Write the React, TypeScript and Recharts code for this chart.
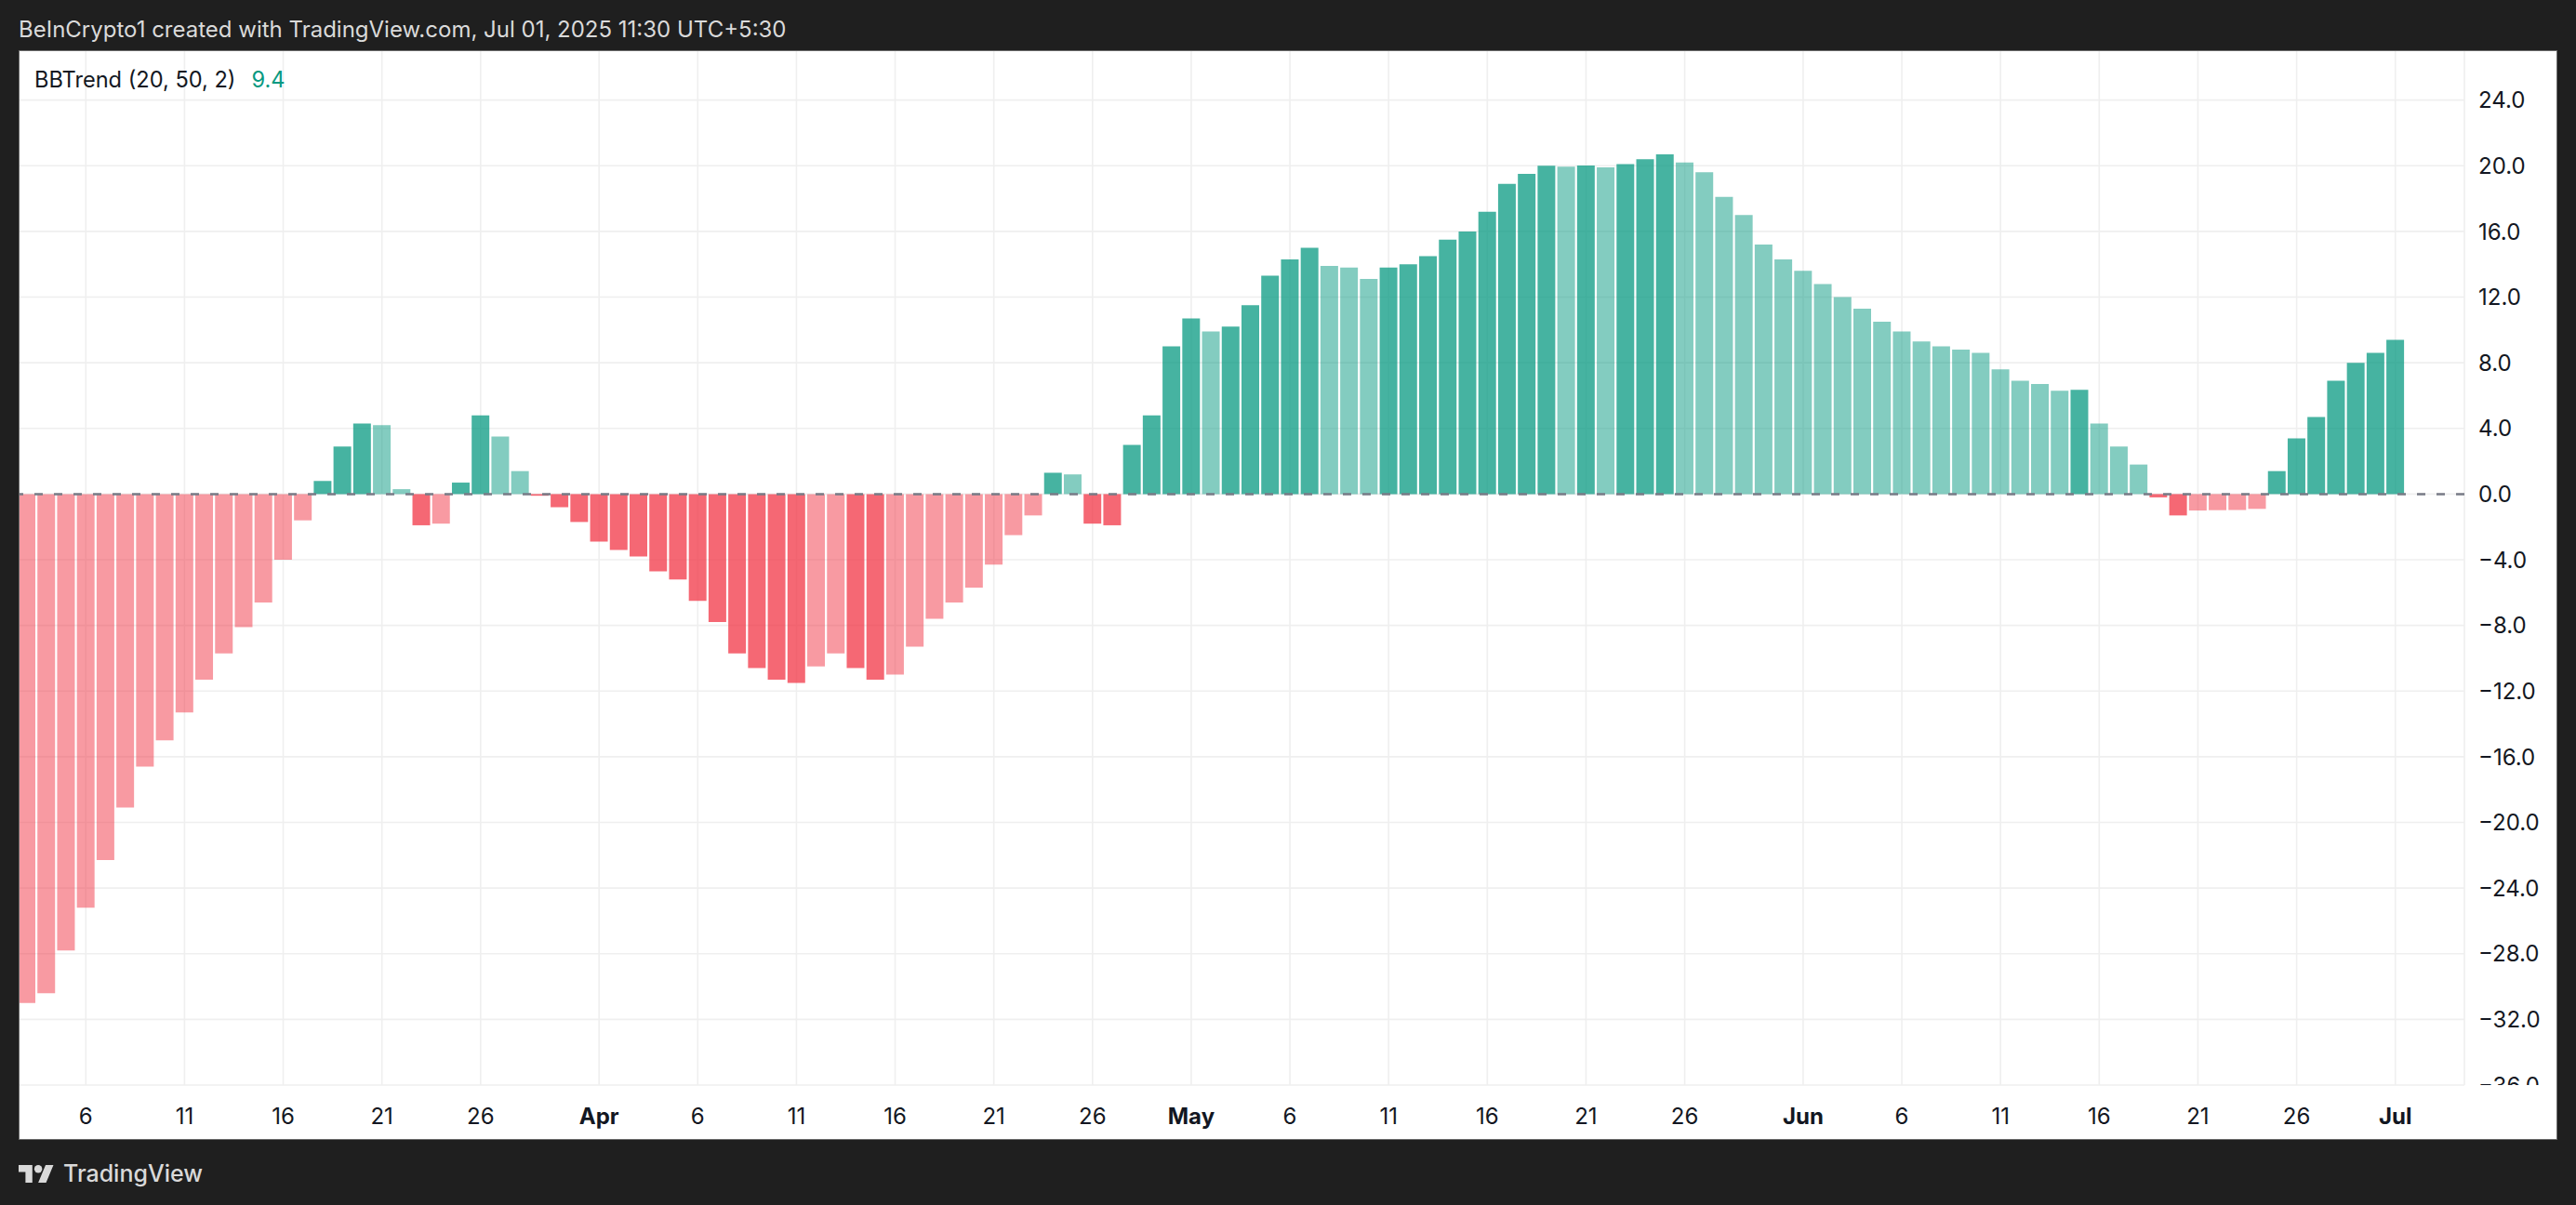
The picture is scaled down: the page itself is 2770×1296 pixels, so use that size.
import React from "react";
import { BarChart, Bar, XAxis, YAxis, CartesianGrid, ReferenceLine, Cell } from "recharts";

// BBTrend (20, 50, 2) daily values, 3 Mar 2025 -> 1 Jul 2025
const startDate = "2025-03-03";
const bbtrend = [
  -31.0, -30.4, -27.8, -25.2, -22.3, -19.1, -16.6, -15.0, -13.3, -11.3,
  -9.7, -8.1, -6.6, -4.0, -1.6, 0.8, 2.9, 4.3, 4.2, 0.3,
  -1.9, -1.8, 0.7, 4.8, 3.5, 1.4, -0.1, -0.8, -1.7, -2.9,
  -3.4, -3.8, -4.7, -5.2, -6.5, -7.8, -9.7, -10.6, -11.3, -11.5,
  -10.5, -9.7, -10.6, -11.3, -11.0, -9.3, -7.6, -6.6, -5.7, -4.3,
  -2.5, -1.3, 1.3, 1.2, -1.8, -1.9, 3.0, 4.8, 9.0, 10.7,
  9.9, 10.2, 11.5, 13.3, 14.3, 15.0, 13.9, 13.8, 13.1, 13.8,
  14.0, 14.5, 15.5, 16.0, 17.2, 18.9, 19.5, 20.0, 19.95, 20.02,
  19.9, 20.1, 20.4, 20.7, 20.2, 19.6, 18.1, 17.0, 15.2, 14.3,
  13.6, 12.8, 12.0, 11.3, 10.5, 9.9, 9.3, 9.0, 8.8, 8.6,
  7.6, 6.9, 6.7, 6.3, 6.35, 4.3, 2.9, 1.8, -0.2, -1.3,
  -1.0, -0.98, -0.97, -0.9, 1.4, 3.4, 4.7, 6.9, 8.0, 8.6,
  9.4,
];
const xTickDates = [
  "2025-03-06", "2025-03-11", "2025-03-16", "2025-03-21", "2025-03-26",
  "2025-04-01", "2025-04-06", "2025-04-11", "2025-04-16", "2025-04-21", "2025-04-26",
  "2025-05-01", "2025-05-06", "2025-05-11", "2025-05-16", "2025-05-21", "2025-05-26",
  "2025-06-01", "2025-06-06", "2025-06-11", "2025-06-16", "2025-06-21", "2025-06-26",
  "2025-07-01",
];
const yTicks = [-36, -32, -28, -24, -20, -16, -12, -8, -4, 0, 4, 8, 12, 16, 20, 24];
const monthNames = ["Jan", "Feb", "Mar", "Apr", "May", "Jun", "Jul", "Aug", "Sep", "Oct", "Nov", "Dec"];

const UP = "#089981";
const DOWN = "#F23645";
const TEXT = "#131722";
const FONT = "Inter, 'Noto Sans', sans-serif";

const DAY = 86400000;
const start = Date.parse(startDate + "T00:00:00Z");
const dates = bbtrend.map((_, i) => new Date(start + i * DAY).toISOString().slice(0, 10));
const data = bbtrend.map((v, i) => ({ idx: i, date: dates[i], value: v }));
const xTicks = xTickDates.map((d) => dates.indexOf(d));

// strong colour when moving away from zero, faded when moving back
const barStyle = (i: number) => {
  const v = bbtrend[i];
  const rising = i === 0 ? true : v >= bbtrend[i - 1];
  if (v >= 0) return { fill: UP, opacity: rising ? 0.75 : 0.5 };
  return { fill: DOWN, opacity: rising ? 0.5 : 0.75 };
};

const XTick = (props: any) => {
  const { x, y, payload } = props;
  const d = dates[payload.value];
  if (!d) return null;
  const day = Number(d.slice(8));
  const isMonth = day === 1;
  const label = isMonth ? monthNames[Number(d.slice(5, 7)) - 1] : String(day);
  return (
    <text x={x} y={y} dy="0.36em" textAnchor="middle" fill={TEXT} fontSize={24}
      fontWeight={isMonth ? 700 : 400} fontFamily={FONT}>
      {label}
    </text>
  );
};

const YTick = (props: any) => {
  const { x, y, payload } = props;
  const v = payload.value;
  const label = (v < 0 ? "\u2212" : "") + Math.abs(v).toFixed(1);
  const text = (
    <text x={x} y={y} dy="0.36em" textAnchor="start" fill={TEXT} fontSize={24} fontFamily={FONT}>
      {label}
    </text>
  );
  if (v === yTicks[0]) {
    // bottom label is cut by the time scale
    return (
      <g>
        <clipPath id="ybottomclip">
          <rect x={x - 5} y={y - 40} width={140} height={40} />
        </clipPath>
        <g clipPath="url(#ybottomclip)">{text}</g>
      </g>
    );
  }
  return text;
};

export default function App() {
  return (
    <div style={{ position: "absolute", left: 0, top: 0, width: 2770, height: 1296, background: "#1f1f1f", fontFamily: FONT }}>
      <div style={{ position: "absolute", left: 20, top: 17, fontSize: 24, lineHeight: "30px", color: "#dadada", whiteSpace: "nowrap" }}>
        BeInCrypto1 created with TradingView.com, Jul 01, 2025 11:30 UTC+5:30
      </div>

      <div style={{ position: "absolute", left: 20, top: 54, width: 2730, height: 1172, boxSizing: "border-box", border: "1px solid #6a6a6a", background: "#ffffff", overflow: "hidden" }}>
        <div style={{ position: "absolute", left: -3, top: -1, width: 2731, height: 1171 }}>
          <BarChart width={2731} height={1171} data={data} margin={{ top: 0, right: 0, left: 0, bottom: 0 }}>
            <CartesianGrid stroke="#efefef" strokeWidth={1.6} />
            <XAxis dataKey="idx" type="number" domain={[-0.5, 123.5]} ticks={xTicks} interval={0}
              allowDataOverflow height={58} tickSize={0} tickMargin={33} tickLine={false} axisLine={false}
              tick={<XTick />} />
            <YAxis orientation="right" type="number" domain={[-36, 27.04]} ticks={yTicks} interval={0}
              allowDataOverflow width={99} tickSize={0} tickMargin={15} tickLine={false} axisLine={false}
              tick={<YTick />} />
            <Bar dataKey="value" barSize={19} isAnimationActive={false}>
              {data.map((d, i) => {
                const s = barStyle(i);
                return <Cell key={d.date} fill={s.fill} fillOpacity={s.opacity} />;
              })}
            </Bar>
            <ReferenceLine y={0} stroke="#787b86" strokeWidth={2.5} strokeDasharray="9 12" />
          </BarChart>
        </div>
        <div style={{ position: "absolute", left: 16, top: 16, fontSize: 23.6, lineHeight: "30px", color: TEXT, whiteSpace: "nowrap" }}>
          BBTrend (20, 50, 2)
          <span style={{ color: UP, marginLeft: 17 }}>9.4</span>
        </div>
      </div>

      <div style={{ position: "absolute", left: 20, top: 1249, display: "flex", alignItems: "center", color: "#d9d9d9" }}>
        <svg width={38} height={19} viewBox="0 4 36 18">
          <path d="M14 22H7V11H0V4h14v18zM28 22h-8l7.5-18h8L28 22z" fill="#d9d9d9" />
          <circle cx={20} cy={8} r={4} fill="#d9d9d9" />
        </svg>
        <span style={{ marginLeft: 10, fontSize: 25, fontWeight: 500, lineHeight: "26px" }}>TradingView</span>
      </div>
    </div>
  );
}
